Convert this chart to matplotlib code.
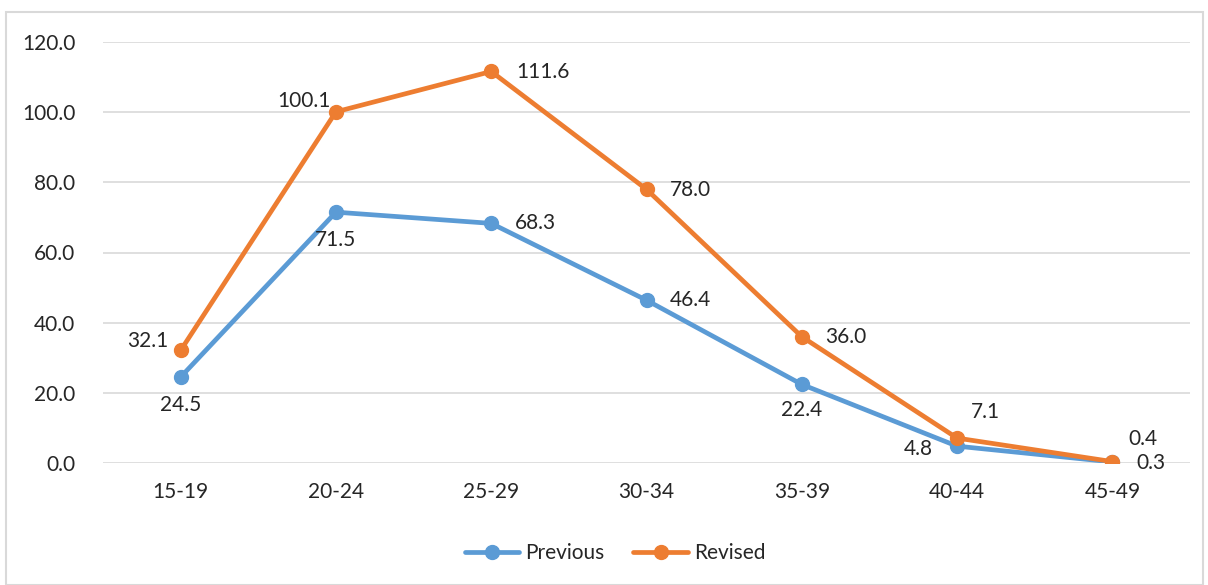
import matplotlib
matplotlib.use("Agg")
import matplotlib.pyplot as plt
from matplotlib.patches import Rectangle

plt.rcParams['font.family'] = ['Lato', 'DejaVu Sans']

categories = ["15-19", "20-24", "25-29", "30-34", "35-39", "40-44", "45-49"]
previous = [24.5, 71.5, 68.3, 46.4, 22.4, 4.8, 0.3]
revised = [32.1, 100.1, 111.6, 78.0, 36.0, 7.1, 0.4]
yticks = [0, 20, 40, 60, 80, 100, 120]

BLUE = "#5B9BD5"
ORANGE = "#ED7D31"
GRID = "#D9D9D9"
TXT = "#262626"

W, H = 1208, 585
fig = plt.figure(figsize=(W / 100, H / 100), dpi=100)
fig.patches.append(Rectangle((6 / W, 0), (1203 - 6) / W, 1 - 12 / H,
                             transform=fig.transFigure, fill=False,
                             edgecolor=GRID, linewidth=1.5))

ax = fig.add_axes([103 / W, 1 - 463 / H, (1190 - 103) / W, (463 - 42) / H])
x = [i + 0.5 for i in range(len(categories))]

ax.plot(x, previous, color=BLUE, lw=3.4, marker='o', ms=10, label="Previous",
        solid_capstyle='round', zorder=3)
ax.plot(x, revised, color=ORANGE, lw=3.4, marker='o', ms=10, label="Revised",
        solid_capstyle='round', zorder=4)

ax.set_xlim(0, len(categories))
ax.set_ylim(0, 120)
ax.set_yticks(yticks)
ax.set_yticklabels([f"{v:.1f}" for v in yticks])
ax.set_xticks(x)
ax.set_xticklabels(categories)
ax.tick_params(axis='both', length=0, labelsize=15, colors=TXT)
ax.tick_params(axis='y', pad=20)
ax.tick_params(axis='x', pad=14)
for s in ax.spines.values():
    s.set_visible(False)
ax.grid(axis='y', color=GRID, lw=1.2)
ax.set_axisbelow(True)

# label offsets in pixels (dx, dy) and alignment
prev_off = [((0, -28), 'center'), ((0, -28), 'center'), ((24, 0), 'left'),
            ((23, 0), 'left'), ((0, -26), 'center'), ((-24, -3), 'right'),
            ((24, -1), 'left')]
rev_off = [((-12, 9), 'right'), ((-5, 11), 'right'), ((25, -1), 'left'),
           ((23, -1), 'left'), ((23, 0), 'left'), ((14, 26), 'left'),
           ((16, 23), 'left')]
k = 72 / 100
for xi, v, (off, ha) in zip(x, previous, prev_off):
    ax.annotate(f"{v:.1f}", (xi, v), xytext=(off[0] * k, off[1] * k),
                textcoords='offset points', ha=ha, va='center',
                fontsize=15, color=TXT, zorder=5)
for xi, v, (off, ha) in zip(x, revised, rev_off):
    ax.annotate(f"{v:.1f}", (xi, v), xytext=(off[0] * k, off[1] * k),
                textcoords='offset points', ha=ha, va='center',
                fontsize=15, color=TXT, zorder=5)

fig.legend(loc='center', bbox_to_anchor=(615 / W, 1 - 553 / H), ncol=2,
           frameon=False, fontsize=15, handlelength=2.6, columnspacing=1.4,
           handletextpad=0.3, labelcolor=TXT)

fig.savefig("out.png", dpi=100)
